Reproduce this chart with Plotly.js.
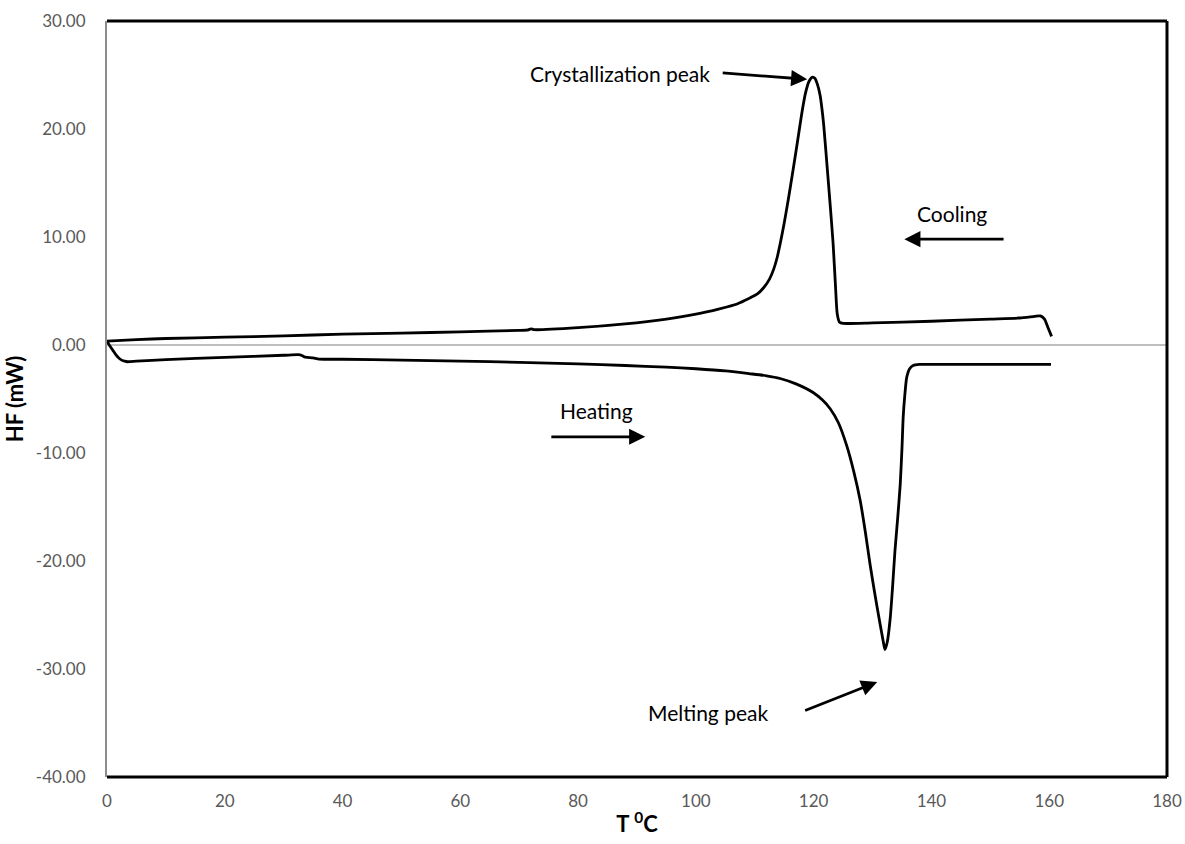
<!DOCTYPE html>
<html>
<head>
<meta charset="utf-8">
<script src="https://cdn.plot.ly/plotly-3.0.1.min.js"></script>
<style>
  html, body { margin: 0; padding: 0; background: #fff; }
  #chart { width: 1185px; height: 844px; }
</style>
</head>
<body>
<div id="chart"></div>
<script>
// DSC thermogram: heat flow vs temperature, cooling and heating runs

// Cooling run (upper trace), temperature in °C
const coolingT = [0, 5, 10, 20, 30, 40, 50, 60, 70, 71.5, 72, 72.5, 80, 88, 95, 100, 104, 107, 109,
  110.5, 111.5, 112.5, 113.2, 113.8, 114.4, 115.0, 115.7, 116.5, 117.3, 118.0, 118.6, 119.2, 119.8,
  120.2, 120.6, 121.1, 121.4, 121.7, 122.2, 122.8, 123.3, 123.7, 124.0, 124.4, 125.0, 130, 140, 150,
  155, 157.5, 158.5, 159.2, 159.8, 160.4];
// Cooling run heat flow, mW
const coolingHF = [0.35, 0.5, 0.6, 0.72, 0.85, 1.0, 1.1, 1.22, 1.35, 1.4, 1.5, 1.42, 1.6, 1.95, 2.4,
  2.85, 3.35, 3.8, 4.3, 4.75, 5.3, 6.1, 7.0, 8.1, 9.6, 11.3, 13.5, 16.2, 19.0, 21.5, 23.3, 24.4, 24.8,
  24.7, 24.2, 23.1, 21.9, 20.4, 17.1, 13.0, 9.4, 5.5, 2.9, 2.1, 2.0, 2.05, 2.2, 2.4, 2.5, 2.65, 2.7,
  2.4, 1.6, 0.8];

// Heating run (lower trace), temperature in °C
const heatingT = [0, 0.5, 1, 1.5, 2, 2.5, 3, 3.5, 5, 10, 20, 30, 32.5, 33, 33.5, 34, 35, 36, 40, 50,
  60, 70, 80, 88, 95, 100, 105, 109, 112, 114.3, 117, 119.9, 121.5, 122.8, 124.2, 125.6, 126.8,
  127.9, 128.8, 129.6, 130.5, 131.3, 131.8, 132.1, 132.5, 133.0, 133.4, 133.8, 134.3, 134.7,
  135.0, 135.2, 135.5, 135.8, 136.3, 136.9, 138, 139.2, 145, 150, 155, 160.3];
// Heating run heat flow, mW
const heatingHF = [0.35, -0.1, -0.5, -0.9, -1.2, -1.4, -1.5, -1.55, -1.5, -1.35, -1.15, -0.95, -0.9,
  -0.95, -1.1, -1.15, -1.2, -1.3, -1.32, -1.4, -1.5, -1.6, -1.75, -1.9, -2.05, -2.2, -2.4, -2.65,
  -2.85, -3.1, -3.6, -4.4, -5.1, -5.9, -7.2, -9.3, -11.7, -14.4, -17.4, -20.4, -23.4, -25.9,
  -27.4, -28.2, -27.5, -25.3, -22.4, -19.1, -15.8, -12.9, -9.5, -6.7, -4.5, -3.0, -2.2, -1.9,
  -1.8, -1.8, -1.8, -1.8, -1.8, -1.8];

// Axis ticks
const xTicks = [0, 20, 40, 60, 80, 100, 120, 140, 160, 180];
const yTicks = [-40, -30, -20, -10, 0, 10, 20, 30];

const FONT = 'Lato, "Open Sans", sans-serif';
const lineStyle = { color: '#000000', width: 2.8, shape: 'spline', smoothing: 0.6 };

const traces = [
  { x: coolingT, y: coolingHF, mode: 'lines', line: lineStyle, name: 'Cooling', hoverinfo: 'x+y' },
  { x: heatingT, y: heatingHF, mode: 'lines', line: lineStyle, name: 'Heating', hoverinfo: 'x+y' }
];

// Label text and arrow helpers (arrows given in data coordinates: tail -> tip)
function label(text, x, y) {
  return { text: text, x: x, y: y, xref: 'x', yref: 'y', showarrow: false,
    font: { family: FONT, size: 21, color: '#000000' } };
}
function arrow(x0, y0, x1, y1) {
  return { text: '', x: x1, y: y1, ax: x0, ay: y0, xref: 'x', yref: 'y', axref: 'x', ayref: 'y',
    showarrow: true, arrowhead: 2, arrowsize: 1.15, arrowwidth: 2.8, arrowcolor: '#000000' };
}

const layout = {
  width: 1185,
  height: 844,
  margin: { l: 107, r: 18, t: 21, b: 67 },
  paper_bgcolor: '#ffffff',
  plot_bgcolor: '#ffffff',
  showlegend: false,
  font: { family: FONT },
  xaxis: {
    range: [0, 180],
    tickvals: xTicks,
    ticktext: xTicks.map(String),
    showgrid: false,
    zeroline: false,
    showline: false,
    ticks: '',
    ticklabelstandoff: 12,
    tickfont: { family: FONT, size: 17, color: '#595959' },
    title: { text: 'T <sup>0</sup>C', font: { family: FONT, size: 22, color: '#000000', weight: 'bold' }, standoff: 6 }
  },
  yaxis: {
    range: [-40, 30],
    tickvals: yTicks,
    ticktext: yTicks.map(v => v.toFixed(2)),
    showgrid: false,
    zeroline: true,
    zerolinecolor: '#bfbfbf',
    zerolinewidth: 1.5,
    showline: true,
    linecolor: '#8c8c8c',
    linewidth: 2,
    ticks: '',
    ticklabelstandoff: 16,
    tickfont: { family: FONT, size: 17, color: '#595959' },
    title: { text: 'HF (mW)', font: { family: FONT, size: 22, color: '#000000', weight: 'bold' }, standoff: 6 }
  },
  shapes: [
    // plot area frame: top, right, bottom
    { type: 'line', xref: 'x domain', yref: 'y domain', x0: 0, x1: 1, y0: 1, y1: 1, line: { color: '#000', width: 3 } },
    { type: 'line', xref: 'x domain', yref: 'y domain', x0: 1, x1: 1, y0: 0, y1: 1, line: { color: '#000', width: 3 } },
    { type: 'line', xref: 'x domain', yref: 'y domain', x0: 0, x1: 1, y0: 0, y1: 0, line: { color: '#000', width: 3 } }
  ],
  annotations: [
    label('Crystallization peak', 87.1, 25.1),
    arrow(104.3, 25.2, 118.9, 24.6),
    label('Cooling', 143.5, 12.2),
    arrow(152.5, 9.8, 135.4, 9.8),
    label('Heating', 83.2, -6.1),
    arrow(75.2, -8.5, 91.4, -8.5),
    label('Melting peak', 102.1, -34.0),
    arrow(118.3, -33.9, 130.8, -31.2)
  ]
};

Plotly.newPlot('chart', traces, layout, { displayModeBar: false, staticPlot: true });
</script>
</body>
</html>
